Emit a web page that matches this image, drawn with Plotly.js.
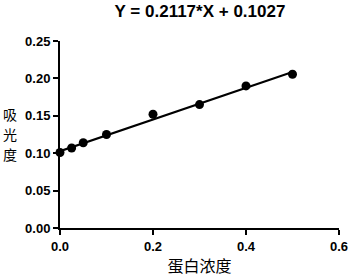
<!DOCTYPE html>
<html>
<head>
<meta charset="utf-8">
<script src="https://cdn.plot.ly/plotly-3.0.1.min.js"></script>
<style>html,body{margin:0;padding:0;background:#fff;}#chart{width:351px;height:278px;}</style>
</head>
<body>
<div id="chart"></div>
<script>
var concentration = [0, 0.025, 0.05, 0.1, 0.2, 0.3, 0.4, 0.5];
var absorbance = [0.101, 0.107, 0.114, 0.125, 0.152, 0.165, 0.190, 0.2055];
var fitX = [0, 0.5];
var fitY = [0.1027, 0.2086];
var titleText = 'Y = 0.2117*X + 0.1027';
var xTitle = '蛋白浓度';
var yTitleChars = ['吸', '光', '度'];

var font = 'Liberation Sans, Arial, sans-serif';
var data = [
  {x: fitX, y: fitY, mode: 'lines', line: {color: '#000', width: 2}, hoverinfo: 'skip', cliponaxis: false},
  {x: concentration, y: absorbance, mode: 'markers', marker: {color: '#000', size: 9}, cliponaxis: false}
];
var annotations = yTitleChars.map(function (ch, i) {
  return {
    text: ch, xref: 'paper', yref: 'paper', x: -50/279, y: (228 - (114 + 20 * i)) / 187,
    xanchor: 'center', yanchor: 'middle', showarrow: false, borderpad: 0,
    font: {family: 'Noto Sans CJK SC', size: 14, color: '#000'}
  };
});
var layout = {
  width: 351, height: 278,
  margin: {l: 60, r: 12, t: 41, b: 50},
  showlegend: false,
  paper_bgcolor: '#fff', plot_bgcolor: '#fff',
  title: {text: '<b>' + titleText + '</b>', font: {family: font, size: 17, color: '#000'}, x: 200/351, xanchor: 'center', y: 1 - 11/278, yanchor: 'middle'},
  xaxis: {
    range: [0, 0.6], dtick: 0.2, tick0: 0, tickformat: '.1f',
    showgrid: false, zeroline: false, showline: true, linecolor: '#000', linewidth: 2,
    ticks: 'outside', ticklen: 5, tickwidth: 2, tickcolor: '#000',
    tickfont: {family: font, size: 13, color: '#000', weight: 'bold'},
    title: {text: xTitle, font: {family: 'Noto Sans CJK SC', size: 16, color: '#000'}, standoff: 8}
  },
  yaxis: {
    range: [0, 0.25], dtick: 0.05, tick0: 0, tickformat: '.2f',
    showgrid: false, zeroline: false, showline: true, linecolor: '#000', linewidth: 2,
    ticks: 'outside', ticklen: 5, tickwidth: 2, tickcolor: '#000',
    tickfont: {family: font, size: 13, color: '#000', weight: 'bold'}
  },
  annotations: annotations
};
Plotly.newPlot('chart', data, layout, {displayModeBar: false, staticPlot: true});
</script>
</body>
</html>
